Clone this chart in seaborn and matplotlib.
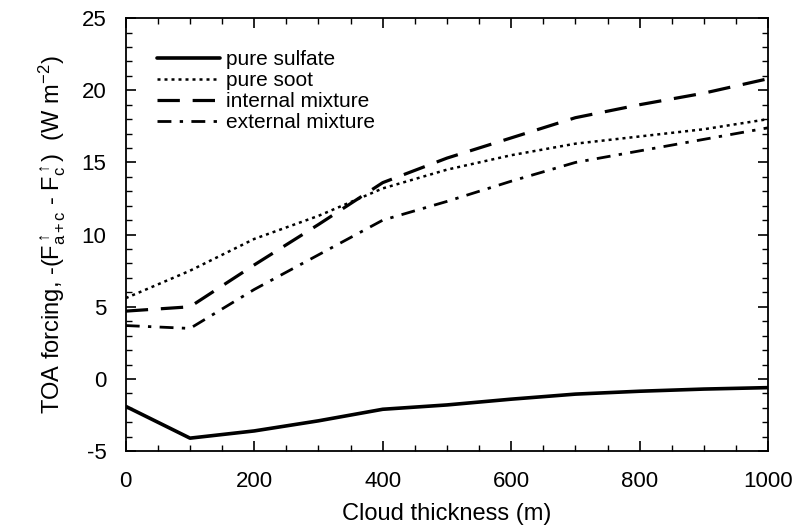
import numpy as np
import pandas as pd
import matplotlib
matplotlib.use("Agg")
import matplotlib.pyplot as plt
from matplotlib.ticker import MultipleLocator
import seaborn as sns

thickness = [0, 100, 200, 300, 400, 500, 600, 700, 800, 900, 1000]
pure_sulfate = [-1.9, -4.1, -3.6, -2.9, -2.1, -1.8, -1.4, -1.05, -0.85, -0.7, -0.6]
pure_soot = [5.6, 7.5, 9.7, 11.3, 13.2, 14.5, 15.5, 16.3, 16.8, 17.3, 18.0]
internal_mix = [4.7, 5.0, 7.9, 10.7, 13.6, 15.3, 16.7, 18.1, 19.0, 19.8, 20.8]
external_mix = [3.7, 3.5, 6.2, 8.6, 11.0, 12.3, 13.7, 15.0, 15.8, 16.6, 17.4]
series_names = ["pure sulfate", "pure soot", "internal mixture", "external mixture"]

df = pd.DataFrame({
    "x": thickness * 4,
    "y": pure_sulfate + pure_soot + internal_mix + external_mix,
    "case": [n for n in series_names for _ in thickness],
})

sns.set_style("ticks")
plt.rcParams["font.family"] = ["Liberation Sans", "DejaVu Sans"]
plt.rcParams["mathtext.fontset"] = "custom"
plt.rcParams["mathtext.rm"] = "Liberation Sans"
plt.rcParams["mathtext.it"] = "Liberation Sans"
plt.rcParams["mathtext.sf"] = "Liberation Sans"
plt.rcParams["axes.unicode_minus"] = False
plt.rcParams["text.color"] = "black"
plt.rcParams["axes.labelcolor"] = "black"
plt.rcParams["xtick.color"] = "black"
plt.rcParams["ytick.color"] = "black"

fig = plt.figure(figsize=(7.96, 5.32), dpi=100)
ax = fig.add_axes([0.158, 0.152, 0.807, 0.814])

dash_map = {
    "pure sulfate": "",
    "pure soot": (1.2, 1.6),
    "internal mixture": (7, 4),
    "external mixture": (5, 3, 1.2, 3),
}
widths = [2.6, 1.8, 2.3, 2.0]
sns.lineplot(data=df, x="x", y="y", hue="case", style="case",
             palette=["black"] * 4, dashes=dash_map, ax=ax,
             hue_order=series_names, style_order=series_names, legend=True)
for ln, lw in zip(ax.lines, widths):
    ln.set_linewidth(lw)

ax.set_xlim(0, 1000)
ax.set_ylim(-5, 25)
ax.xaxis.set_major_locator(MultipleLocator(200))
ax.xaxis.set_minor_locator(MultipleLocator(50))
ax.yaxis.set_major_locator(MultipleLocator(5))
ax.yaxis.set_minor_locator(MultipleLocator(1))
ax.tick_params(which="both", direction="in", top=True, right=True,
               labelsize=16)
ax.tick_params(which="major", length=7, width=1.2, pad=14)
ax.tick_params(which="minor", length=4, width=1)
for s in ax.spines.values():
    s.set_linewidth(1.3)
    s.set_color("black")

ax.set_xlabel("Cloud thickness (m)", fontsize=17, labelpad=8)
ax.set_ylabel(r"TOA forcing, -(F$_{\mathrm{a+c}}^{\uparrow}$ - F$_{\mathrm{c}}^{\uparrow}$)  (W m$^{-2}$)",
              fontsize=17, labelpad=10)

handles, labels = ax.get_legend_handles_labels()
leg = ax.legend(handles, labels, loc="upper left", frameon=False, fontsize=15,
                handlelength=3.0, handletextpad=0.3, labelspacing=0.1,
                bbox_to_anchor=(0.02, 0.97))
for h, lw in zip(leg.get_lines(), widths):
    h.set_linewidth(lw)

fig.savefig("out.png", dpi=100)
